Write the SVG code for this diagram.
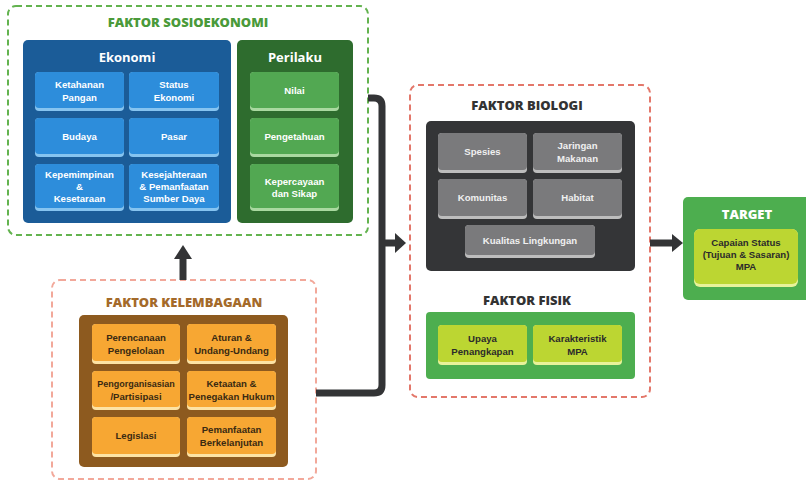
<svg xmlns="http://www.w3.org/2000/svg" width="806" height="483" viewBox="0 0 806 483">
<defs>
<style>
text{font-family:"Open Sans","Liberation Sans",sans-serif;text-anchor:middle}
.ttl{font-size:13px;font-weight:800}
.sub{font-size:13px;font-weight:700;fill:#fff}
.t{font-family:"Liberation Sans","Open Sans",sans-serif;font-size:9.6px;font-weight:700}
.s{font-size:9px}
.w{fill:#fff}
.d{fill:#3a2a12}
.g{fill:#f0f0f0}
.k{fill:#2b2b2b}
.dash{fill:#fff;stroke-width:2;stroke-dasharray:6 4}
.conn{fill:none;stroke:#333436;stroke-width:7}
.head{fill:#333436}
</style>
</defs>
<rect width="806" height="483" fill="#fff"/>

<g id="sosioekonomi">
<rect class="dash" x="8" y="6" width="360" height="229" rx="8" stroke="#63b34f"/>
<text class="ttl" x="188" y="27" fill="#4a9a3a">FAKTOR SOSIOEKONOMI</text>
</g>

<g id="ekonomi">
<rect x="23" y="40" width="208" height="183" rx="5" fill="#1b5c98"/>
<text class="sub" x="127" y="62">Ekonomi</text>
<rect x="35" y="72" width="89" height="39" rx="4" fill="#86c4f0"/><rect x="35" y="72" width="89" height="36" rx="4" fill="#2d8ddb"/>
<text class="t w" x="79.5" y="88">Ketahanan</text><text class="t w" x="79.5" y="101">Pangan</text>
<rect x="129" y="72" width="90" height="39" rx="4" fill="#86c4f0"/><rect x="129" y="72" width="90" height="36" rx="4" fill="#2d8ddb"/>
<text class="t w" x="174" y="88">Status</text><text class="t w" x="174" y="101">Ekonomi</text>
<rect x="35" y="118" width="89" height="39" rx="4" fill="#86c4f0"/><rect x="35" y="118" width="89" height="36" rx="4" fill="#2d8ddb"/>
<text class="t w" x="79.5" y="140">Budaya</text>
<rect x="129" y="118" width="90" height="39" rx="4" fill="#86c4f0"/><rect x="129" y="118" width="90" height="36" rx="4" fill="#2d8ddb"/>
<text class="t w" x="174" y="140">Pasar</text>
<rect x="35" y="164" width="89" height="47" rx="4" fill="#86c4f0"/><rect x="35" y="164" width="89" height="44" rx="4" fill="#2d8ddb"/>
<text class="t w" x="79.5" y="178">Kepemimpinan</text><text class="t w" x="79.5" y="190">&amp;</text><text class="t w" x="79.5" y="202">Kesetaraan</text>
<rect x="129" y="164" width="90" height="47" rx="4" fill="#86c4f0"/><rect x="129" y="164" width="90" height="44" rx="4" fill="#2d8ddb"/>
<text class="t w" x="174" y="178">Kesejahteraan</text><text class="t w" x="174" y="190">&amp; Pemanfaatan</text><text class="t w" x="174" y="202">Sumber Daya</text>
</g>

<g id="perilaku">
<rect x="237" y="40" width="116" height="183" rx="5" fill="#2e6c2e"/>
<text class="sub" x="295" y="62">Perilaku</text>
<rect x="250" y="72" width="89" height="39" rx="4" fill="#a9d9a0"/><rect x="250" y="72" width="89" height="36" rx="4" fill="#52a852"/>
<text class="t w" x="294.5" y="94">Nilai</text>
<rect x="250" y="118" width="89" height="39" rx="4" fill="#a9d9a0"/><rect x="250" y="118" width="89" height="36" rx="4" fill="#52a852"/>
<text class="t w" x="294.5" y="140">Pengetahuan</text>
<rect x="250" y="164" width="89" height="47" rx="4" fill="#a9d9a0"/><rect x="250" y="164" width="89" height="44" rx="4" fill="#52a852"/>
<text class="t w" x="294.5" y="185">Kepercayaan</text><text class="t w" x="294.5" y="197">dan Sikap</text>
</g>

<g id="kelembagaan">
<rect class="dash" x="52" y="280" width="264" height="199" rx="8" stroke="#f2a89a"/>
<text class="ttl" x="184" y="307" fill="#a46a2a">FAKTOR KELEMBAGAAN</text>
<rect x="79" y="315" width="209" height="152" rx="5" fill="#8d5a1f"/>
<rect x="92" y="324" width="88" height="40" rx="4" fill="#fde3a4"/><rect x="92" y="324" width="88" height="37" rx="4" fill="#f7a733"/>
<text class="t d" x="136" y="341">Perencanaan</text><text class="t d" x="136" y="354">Pengelolaan</text>
<rect x="187" y="324" width="89" height="40" rx="4" fill="#fde3a4"/><rect x="187" y="324" width="89" height="37" rx="4" fill="#f7a733"/>
<text class="t d" x="231.5" y="341">Aturan &amp;</text><text class="t d" x="231.5" y="354">Undang-Undang</text>
<rect x="92" y="371" width="88" height="39" rx="4" fill="#fde3a4"/><rect x="92" y="371" width="88" height="36" rx="4" fill="#f7a733"/>
<text class="t d s" x="136" y="387">Pengorganisasian</text><text class="t d" x="136" y="400">/Partisipasi</text>
<rect x="187" y="371" width="89" height="39" rx="4" fill="#fde3a4"/><rect x="187" y="371" width="89" height="36" rx="4" fill="#f7a733"/>
<text class="t d" x="231.5" y="387">Ketaatan &amp;</text><text class="t d" x="231.5" y="400">Penegakan Hukum</text>
<rect x="92" y="417" width="88" height="40" rx="4" fill="#fde3a4"/><rect x="92" y="417" width="88" height="37" rx="4" fill="#f7a733"/>
<text class="t d" x="136" y="439">Legislasi</text>
<rect x="187" y="417" width="89" height="40" rx="4" fill="#fde3a4"/><rect x="187" y="417" width="89" height="37" rx="4" fill="#f7a733"/>
<text class="t d" x="231.5" y="433">Pemanfaatan</text><text class="t d" x="231.5" y="446">Berkelanjutan</text>
</g>

<g id="biologi-fisik">
<rect class="dash" x="410" y="85" width="240" height="312" rx="8" stroke="#e3776a"/>
<text class="ttl" x="527" y="110" fill="#333">FAKTOR BIOLOGI</text>
<rect x="426" y="121" width="209" height="150" rx="5" fill="#343537"/>
<rect x="438" y="133" width="89" height="40" rx="4" fill="#bdbdbd"/><rect x="438" y="133" width="89" height="37" rx="4" fill="#7a7a7c"/>
<text class="t g" x="482.5" y="155">Spesies</text>
<rect x="533" y="133" width="89" height="40" rx="4" fill="#bdbdbd"/><rect x="533" y="133" width="89" height="37" rx="4" fill="#7a7a7c"/>
<text class="t g" x="577.5" y="149">Jaringan</text><text class="t g" x="577.5" y="162">Makanan</text>
<rect x="438" y="179" width="89" height="40" rx="4" fill="#bdbdbd"/><rect x="438" y="179" width="89" height="37" rx="4" fill="#7a7a7c"/>
<text class="t g" x="482.5" y="201">Komunitas</text>
<rect x="533" y="179" width="89" height="40" rx="4" fill="#bdbdbd"/><rect x="533" y="179" width="89" height="37" rx="4" fill="#7a7a7c"/>
<text class="t g" x="577.5" y="201">Habitat</text>
<rect x="465" y="225" width="130" height="33" rx="4" fill="#bdbdbd"/><rect x="465" y="225" width="130" height="30" rx="4" fill="#7a7a7c"/>
<text class="t g" x="530" y="244">Kualitas Lingkungan</text>
<text class="ttl" x="527" y="305" fill="#333">FAKTOR FISIK</text>
<rect x="426" y="312" width="209" height="67" rx="4" fill="#4dae4f"/>
<rect x="438" y="325" width="89" height="40" rx="4" fill="#e8f29a"/><rect x="438" y="325" width="89" height="37" rx="4" fill="#bcd632"/>
<text class="t k" x="482.5" y="342">Upaya</text><text class="t k" x="482.5" y="355">Penangkapan</text>
<rect x="533" y="325" width="89" height="40" rx="4" fill="#e8f29a"/><rect x="533" y="325" width="89" height="37" rx="4" fill="#bcd632"/>
<text class="t k" x="577.5" y="342">Karakteristik</text><text class="t k" x="577.5" y="355">MPA</text>
</g>

<g id="target">
<rect x="683" y="197" width="130" height="103" rx="5" fill="#4dae4f"/>
<text class="ttl" x="747" y="219" fill="#fff">TARGET</text>
<rect x="694" y="229" width="104" height="58" rx="6" fill="#e8f29a"/><rect x="694" y="229" width="104" height="55" rx="6" fill="#bcd632"/>
<text class="t k" x="746" y="246">Capaian Status</text><text class="t k" x="746" y="258">(Tujuan &amp; Sasaran)</text><text class="t k" x="746" y="270">MPA</text>
</g>

<g id="connectors">
<path class="conn" d="M368 98 H374 Q382 98 382 106 V385 Q382 393 374 393 H316"/>
<path class="conn" d="M382 243 H397" stroke-width="6"/>
<polygon class="head" points="395,233 406,243 395,253"/>
<path class="conn" d="M183 280 V256"/>
<polygon class="head" points="174,259 183,245 192,259"/>
<path class="conn" d="M650 243 H674"/>
<polygon class="head" points="672,234 683,243 672,252"/>
</g>
</svg>
